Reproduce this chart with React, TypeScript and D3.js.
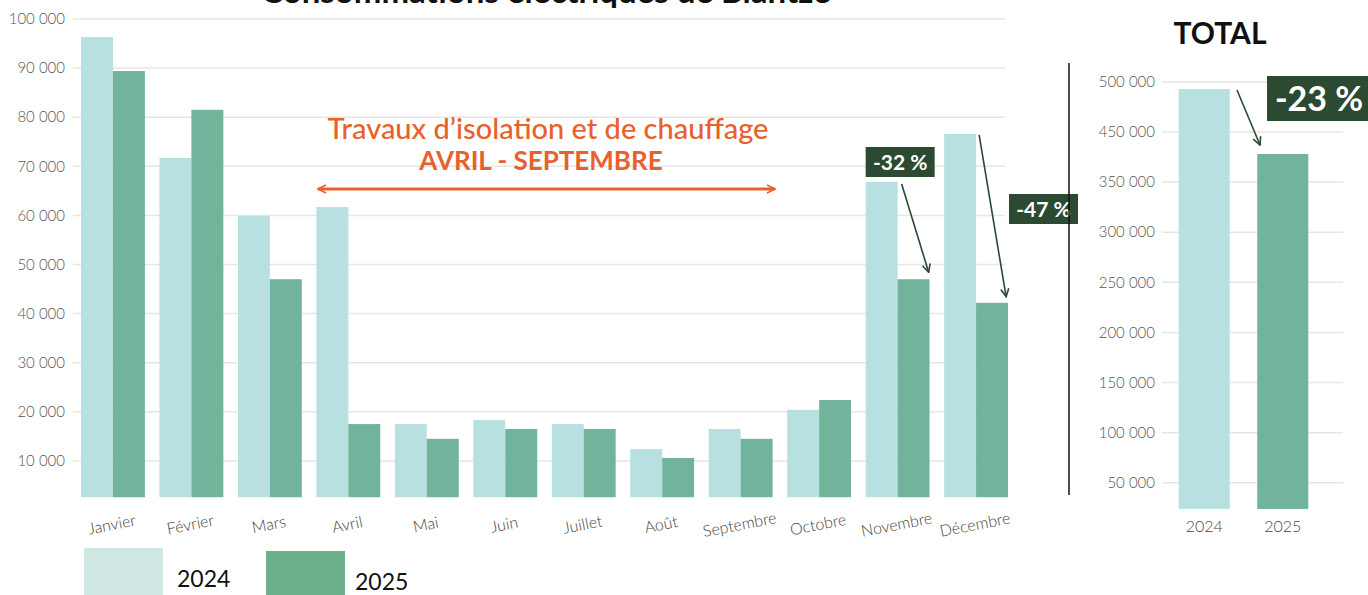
import React, { useEffect, useRef } from 'react';
import * as d3 from 'd3';

const months = ['Janvier', 'Février', 'Mars', 'Avril', 'Mai', 'Juin', 'Juillet', 'Août', 'Septembre', 'Octobre', 'Novembre', 'Décembre'];
const conso2024 = [96300, 71700, 59900, 61700, 17500, 18300, 17500, 12400, 16500, 20400, 66800, 76600];
const conso2025 = [89400, 81500, 47000, 17500, 14500, 16500, 16500, 10600, 14500, 22400, 47000, 42200];
const monthTicks = [10000, 20000, 30000, 40000, 50000, 60000, 70000, 80000, 90000, 100000];

const totalYears = ['2024', '2025'];
const totalValues = [493000, 406000];
const totalTicks = [50000, 100000, 150000, 200000, 250000, 300000, 350000, 450000, 500000];

const years = ['2024', '2025'];
const barColors = ['#b8e0e0', '#71b39b'];
const legendColors = ['#cfe8e4', '#6db18c'];

const fmt = (v: number) => d3.format(',')(v).replace(/,/g, ' ');
const FONT = 'Lato, "Open Sans", sans-serif';

export default function App() {
  const ref = useRef<SVGSVGElement>(null);

  useEffect(() => {
    const svg = d3.select(ref.current);
    svg.selectAll('*').remove();

    const defs = svg.append('defs');
    const mk = (id: string, color: string) => {
      defs.append('marker')
        .attr('id', id).attr('viewBox', '0 0 10 10')
        .attr('refX', 9).attr('refY', 5)
        .attr('markerWidth', 10).attr('markerHeight', 10)
        .attr('markerUnits', 'userSpaceOnUse')
        .attr('orient', 'auto-start-reverse')
        .append('path').attr('d', 'M1,1 L9,5 L1,9')
        .attr('fill', 'none').attr('stroke', color).attr('stroke-width', 1.6);
    };
    mk('arrO', '#e8612c');
    mk('arrG', '#2b4a31');

    // ---- monthly chart
    const x = d3.scaleBand<string>().domain(months).range([81, 1008]).paddingInner(0.186).paddingOuter(0);
    const x1 = d3.scaleBand<string>().domain(years).range([0, x.bandwidth()]);
    const y = d3.scaleLinear([0, 100000], [510, 19]);
    const base = 2600;

    svg.append('g').selectAll('line').data(monthTicks).join('line')
      .attr('x1', 73).attr('x2', 1005)
      .attr('y1', d => y(d)).attr('y2', d => y(d))
      .attr('stroke', '#e6e6e6').attr('stroke-width', 1.5);

    svg.append('g').selectAll('text').data(monthTicks).join('text')
      .attr('x', 65).attr('y', d => y(d)).attr('dy', '0.35em')
      .attr('text-anchor', 'end').attr('fill', '#555')
      .style('font', `300 15px ${FONT}`)
      .text(d => fmt(d));

    const groups = svg.append('g').selectAll('g').data(months).join('g')
      .attr('transform', d => `translate(${x(d)},0)`);
    groups.selectAll('rect')
      .data((d, i) => [conso2024[i], conso2025[i]])
      .join('rect')
      .attr('x', (d, j) => x1(years[j])!)
      .attr('width', x1.bandwidth())
      .attr('y', d => y(d))
      .attr('height', d => y(base) - y(d))
      .attr('fill', (d, j) => barColors[j]);

    svg.append('g').selectAll('text').data(months).join('text')
      .attr('transform', d => `translate(${x(d)! + x.bandwidth() / 2},${530}) rotate(-11)`)
      .attr('text-anchor', 'middle').attr('fill', '#444')
      .style('font', `300 16px ${FONT}`)
      .text(d => d);

    // title (cut at the top, as in the source)
    svg.append('text').attr('x', 546).attr('y', 3).attr('text-anchor', 'middle')
      .style('font', `bold 33px ${FONT}`).attr('fill', '#111')
      .text('Consommations électriques de Blantzé');

    // works annotation
    svg.append('text').attr('x', 548).attr('y', 139).attr('text-anchor', 'middle')
      .attr('fill', '#e8612c').style('font', `500 29px ${FONT}`)
      .text('Travaux d’isolation et de chauffage');
    svg.append('text').attr('x', 541).attr('y', 170).attr('text-anchor', 'middle')
      .attr('fill', '#e8612c').style('font', `bold 26px ${FONT}`)
      .text('AVRIL - SEPTEMBRE');
    svg.append('line')
      .attr('x1', 318).attr('x2', 775).attr('y1', 189).attr('y2', 189)
      .attr('stroke', '#e8612c').attr('stroke-width', 3)
      .attr('marker-start', 'url(#arrO)').attr('marker-end', 'url(#arrO)');

    // change labels
    const tag = (bx: number, by: number, w: number, h: number, size: number, label: string) => {
      svg.append('rect').attr('x', bx).attr('y', by).attr('width', w).attr('height', h).attr('fill', '#2b4a31');
      svg.append('text').attr('x', bx + w / 2).attr('y', by + h / 2).attr('dy', '0.36em')
        .attr('text-anchor', 'middle').attr('fill', '#fff')
        .style('font', `bold ${size}px ${FONT}`).text(label);
    };
    const arrow = (ax: number, ay: number, bx: number, by: number) => {
      svg.append('line').attr('x1', ax).attr('y1', ay).attr('x2', bx).attr('y2', by)
        .attr('stroke', '#2b4a31').attr('stroke-width', 1.6).attr('marker-end', 'url(#arrG)');
    };
    const nov = x('Novembre')!, dec = x('Décembre')!;
    tag(nov, 147, 69, 30, 21, '-32 %');
    arrow(nov + 36, y(conso2024[10]) + 2, nov + 63, y(conso2025[10]) - 7);
    tag(1009, 194, 69, 30, 21, '-47 %');
    arrow(dec + 35, y(conso2024[11]) + 1, dec + 62, y(conso2025[11]) - 6);

    // separator
    svg.append('line').attr('x1', 1069).attr('x2', 1069).attr('y1', 63).attr('y2', 495)
      .attr('stroke', '#111').attr('stroke-width', 1.5);

    // ---- total chart
    const tx = d3.scaleBand<string>().domain(totalYears).range([1163, 1324]).paddingInner(0.35).paddingOuter(0.2);
    const ty = d3.scaleLinear([0, 350000, 450000, 500000], [533, 182, 132, 82]);
    const tbase = 24000;

    svg.append('text').attr('x', 1220).attr('y', 44).attr('text-anchor', 'middle')
      .style('font', `bold 30px ${FONT}`).attr('fill', '#111').text('TOTAL');

    svg.append('g').selectAll('line').data(totalTicks).join('line')
      .attr('x1', 1162).attr('x2', 1343)
      .attr('y1', d => ty(d)).attr('y2', d => ty(d))
      .attr('stroke', '#e6e6e6').attr('stroke-width', 1.5);
    svg.append('g').selectAll('text').data(totalTicks).join('text')
      .attr('x', 1155).attr('y', d => ty(d)).attr('dy', '0.35em')
      .attr('text-anchor', 'end').attr('fill', '#555')
      .style('font', `300 15px ${FONT}`)
      .text(d => fmt(d));

    svg.append('g').selectAll('rect').data(totalValues).join('rect')
      .attr('x', (d, i) => tx(totalYears[i])!)
      .attr('width', tx.bandwidth())
      .attr('y', d => ty(d))
      .attr('height', d => ty(tbase) - ty(d))
      .attr('fill', (d, i) => barColors[i]);
    svg.append('g').selectAll('text').data(totalYears).join('text')
      .attr('x', d => tx(d)! + tx.bandwidth() / 2).attr('y', 532)
      .attr('text-anchor', 'middle').attr('fill', '#444')
      .style('font', `300 16px ${FONT}`).text(d => d);

    tag(1267, 76, 104, 45, 34, '-23 %');
    arrow(1237, ty(totalValues[0]) + 1, 1260, ty(totalValues[1]) - 9);

    // ---- legend
    const lg = svg.append('g').selectAll('g').data(years).join('g');
    lg.append('rect')
      .attr('x', (d, i) => [84, 266][i]).attr('y', (d, i) => [548, 551][i])
      .attr('width', 79).attr('height', 50)
      .attr('fill', (d, i) => legendColors[i]);
    lg.append('text')
      .attr('x', (d, i) => [177, 355][i]).attr('y', (d, i) => [587, 590][i])
      .attr('fill', '#111').style('font', `400 23px ${FONT}`)
      .text(d => d);
  }, []);

  return (
    <svg ref={ref} width={1368} height={595}
      style={{ position: 'absolute', left: 0, top: 0, background: '#fff' }} />
  );
}
